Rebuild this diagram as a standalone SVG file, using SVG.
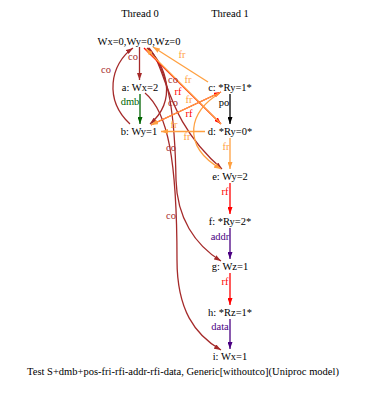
<svg xmlns="http://www.w3.org/2000/svg" width="366" height="394" viewBox="0 0 366 394">
<style>
text{font-family:"Liberation Serif","Times New Roman",serif;font-size:10.5px;text-anchor:middle}
.n{fill:#000}
.e{fill:none;stroke-width:1.3}
.co{stroke:#a52a2a}.rf{stroke:#ff0000}.fr{stroke:#ffa040}.po{stroke:#000}.dmb{stroke:#006400}.ind{stroke:#4b0082}
.tco{fill:#a52a2a}.trf{fill:#ff0000}.tfr{fill:#ffa040}.tpo{fill:#000}.tdmb{fill:#006400}.tind{fill:#4b0082}
</style>
<defs>
<marker id="aco" viewBox="0 0 7 5" refX="7" refY="2.5" markerWidth="7" markerHeight="5" orient="auto" markerUnits="userSpaceOnUse"><path d="M0,0L7,2.5L0,5z" fill="#a52a2a"/></marker>
<marker id="arf" viewBox="0 0 7 5" refX="7" refY="2.5" markerWidth="7" markerHeight="5" orient="auto" markerUnits="userSpaceOnUse"><path d="M0,0L7,2.5L0,5z" fill="#ff0000"/></marker>
<marker id="afr" viewBox="0 0 7 5" refX="7" refY="2.5" markerWidth="7" markerHeight="5" orient="auto" markerUnits="userSpaceOnUse"><path d="M0,0L7,2.5L0,5z" fill="#ffa040"/></marker>
<marker id="apo" viewBox="0 0 7 5" refX="7" refY="2.5" markerWidth="7" markerHeight="5" orient="auto" markerUnits="userSpaceOnUse"><path d="M0,0L7,2.5L0,5z" fill="#000"/></marker>
<marker id="admb" viewBox="0 0 7 5" refX="7" refY="2.5" markerWidth="7" markerHeight="5" orient="auto" markerUnits="userSpaceOnUse"><path d="M0,0L7,2.5L0,5z" fill="#006400"/></marker>
<marker id="aind" viewBox="0 0 7 5" refX="7" refY="2.5" markerWidth="7" markerHeight="5" orient="auto" markerUnits="userSpaceOnUse"><path d="M0,0L7,2.5L0,5z" fill="#4b0082"/></marker>
</defs>
<rect width="366" height="394" fill="#fff"/>
<g id="connectors">
<path class="e co" marker-end="url(#aco)" d="M139.5,47L139.5,80"/>
<path class="e dmb" marker-end="url(#admb)" d="M140,94L140,124"/>
<path class="e po" marker-end="url(#apo)" d="M230,94L230,124"/>
<path class="e fr" marker-end="url(#afr)" d="M230,138L230,169"/>
<path class="e rf" marker-end="url(#arf)" d="M230,183L230,214"/>
<path class="e ind" marker-end="url(#aind)" d="M230,228L230,259"/>
<path class="e rf" marker-end="url(#arf)" d="M230,273L230,305"/>
<path class="e ind" marker-end="url(#aind)" d="M230,319L230,349"/>
<path class="e co" marker-end="url(#aco)" d="M130,124C104,100 110,64 133,48"/>
<path class="e co" marker-end="url(#aco)" d="M147,48C166,64 178,100 150,124"/>
<path class="e co" marker-end="url(#aco)" d="M149,48C168,70 165,120 222,169"/>
<path class="e co" marker-end="url(#aco)" d="M148,48C170,70 175,120 176,180C177,218 195,245 221,261"/>
<path class="e co" marker-end="url(#aco)" d="M145,93C168,112 177,160 177,260C177,310 195,335 221,350"/>
<path class="e fr" marker-end="url(#afr)" d="M208,82L153,47"/>
<path class="e rf" marker-end="url(#arf)" d="M144,48L221,124"/>
<path class="e fr" marker-end="url(#afr)" d="M221,124L146,49"/>
<path class="e rf" marker-end="url(#arf)" d="M151,125L221,92"/>
<path class="e fr" marker-end="url(#afr)" d="M221,92L151,125"/>
<path class="e fr" marker-end="url(#afr)" d="M205,131.5L161,131.5"/>
<path class="e fr" marker-end="url(#afr)" d="M219,94C190,110 180,145 221,169"/>
</g>
<g id="labels">
<text class="tco" x="133" y="60">co</text>
<text class="tco" x="106" y="73">co</text>
<text class="tco" x="173" y="83">co</text>
<text class="tco" x="173" y="106">co</text>
<text class="tco" x="171" y="151">co</text>
<text class="tco" x="171" y="219">co</text>
<text class="tdmb" x="130" y="105">dmb</text>
<text class="tpo" x="224" y="106">po</text>
<text class="tfr" x="182" y="58">fr</text>
<text class="tfr" x="188" y="83">fr</text>
<text class="trf" x="178" y="95">rf</text>
<text class="tfr" x="189" y="103">fr</text>
<text class="trf" x="189" y="117">rf</text>
<text class="tfr" x="174" y="128">fr</text>
<text class="tfr" x="187" y="140">fr</text>
<text class="tfr" x="226" y="150">fr</text>
<text class="trf" x="225" y="195">rf</text>
<text class="tind" x="220" y="240">addr</text>
<text class="trf" x="225" y="285">rf</text>
<text class="tind" x="220" y="330">data</text>
</g>
<g id="thread0"><text class="n" x="140" y="17">Thread 0</text></g>
<g id="thread1"><text class="n" x="230" y="17">Thread 1</text></g>
<g id="init"><text class="n" x="139" y="45">Wx=0,Wy=0,Wz=0</text></g>
<g id="a"><text class="n" x="140" y="91">a: Wx=2</text></g>
<g id="b"><text class="n" x="139" y="135">b: Wy=1</text></g>
<g id="c"><text class="n" x="230" y="91">c: *Ry=1*</text></g>
<g id="d"><text class="n" x="230" y="135">d: *Ry=0*</text></g>
<g id="e"><text class="n" x="230" y="180">e: Wy=2</text></g>
<g id="f"><text class="n" x="230" y="225">f: *Ry=2*</text></g>
<g id="g"><text class="n" x="230" y="270">g: Wz=1</text></g>
<g id="h"><text class="n" x="230" y="316">h: *Rz=1*</text></g>
<g id="i"><text class="n" x="230" y="360">i: Wx=1</text></g>
<g id="caption"><text class="n" x="183" y="375">Test S+dmb+pos-fri-rfi-addr-rfi-data, Generic[withoutco](Uniproc model)</text></g>
</svg>
